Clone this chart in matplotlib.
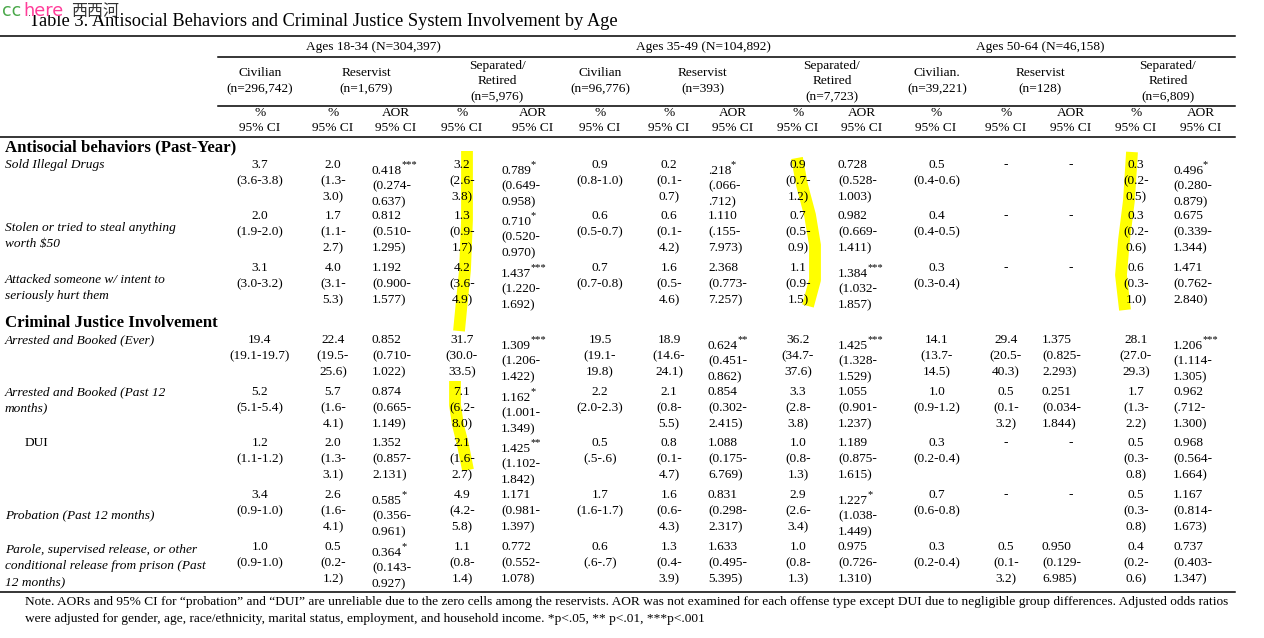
import matplotlib
matplotlib.use('Agg')
import matplotlib.pyplot as plt
from matplotlib.patches import Rectangle

# ---------------- data ----------------
title = "Table 3. Antisocial Behaviors and Criminal Justice System Involvement by Age"
age_groups = ["Ages 18-34 (N=304,397)", "Ages 35-49 (N=104,892)", "Ages 50-64 (N=46,158)"]
group_headers = [
    ["Civilian", "(n=296,742)"], ["Reservist", "(n=1,679)"], ["Separated/", "Retired", "(n=5,976)"],
    ["Civilian", "(n=96,776)"], ["Reservist", "(n=393)"], ["Separated/", "Retired", "(n=7,723)"],
    ["Civilian.", "(n=39,221)"], ["Reservist", "(n=128)"], ["Separated/", "Retired", "(n=6,809)"],
]
col_headers = ["%", "%", "AOR", "%", "AOR", "%", "%", "AOR", "%", "AOR", "%", "%", "AOR", "%", "AOR"]

sections = ["Antisocial behaviors (Past-Year)", "Criminal Justice Involvement"]
row_labels = [
    "Sold Illegal Drugs",
    "Stolen or tried to steal anything\nworth $50",
    "Attacked someone w/ intent to\nseriously hurt them",
    "Arrested and Booked (Ever)",
    "Arrested and Booked (Past 12\nmonths)",
    "DUI",
    "Probation (Past 12 months)",
    "Parole, supervised release, or other\nconditional release from prison (Past\n12 months)",
]

civ_1834 = ["3.7\n(3.6-3.8)", "2.0\n(1.9-2.0)", "3.1\n(3.0-3.2)", "19.4\n(19.1-19.7)",
            "5.2\n(5.1-5.4)", "1.2\n(1.1-1.2)", "3.4\n(0.9-1.0)", "1.0\n(0.9-1.0)"]
res_pct_1834 = ["2.0\n(1.3-\n3.0)", "1.7\n(1.1-\n2.7)", "4.0\n(3.1-\n5.3)", "22.4\n(19.5-\n25.6)",
                "5.7\n(1.6-\n4.1)", "2.0\n(1.3-\n3.1)", "2.6\n(1.6-\n4.1)", "0.5\n(0.2-\n1.2)"]
res_aor_1834 = ["0.418***\n(0.274-\n0.637)", "0.812\n(0.510-\n1.295)", "1.192\n(0.900-\n1.577)",
                "0.852\n(0.710-\n1.022)", "0.874\n(0.665-\n1.149)", "1.352\n(0.857-\n2.131)",
                "0.585*\n(0.356-\n0.961)", "0.364*\n(0.143-\n0.927)"]
sep_pct_1834 = ["3.2\n(2.6-\n3.8)", "1.3\n(0.9-\n1.7)", "4.2\n(3.6-\n4.9)", "31.7\n(30.0-\n33.5)",
                "7.1\n(6.2-\n8.0)", "2.1\n(1.6-\n2.7)", "4.9\n(4.2-\n5.8)", "1.1\n(0.8-\n1.4)"]
sep_aor_1834 = ["0.789*\n(0.649-\n0.958)", "0.710*\n(0.520-\n0.970)", "1.437***\n(1.220-\n1.692)",
                "1.309***\n(1.206-\n1.422)", "1.162*\n(1.001-\n1.349)", "1.425**\n(1.102-\n1.842)",
                "1.171\n(0.981-\n1.397)", "0.772\n(0.552-\n1.078)"]
civ_3549 = ["0.9\n(0.8-1.0)", "0.6\n(0.5-0.7)", "0.7\n(0.7-0.8)", "19.5\n(19.1-\n19.8)",
            "2.2\n(2.0-2.3)", "0.5\n(.5-.6)", "1.7\n(1.6-1.7)", "0.6\n(.6-.7)"]
res_pct_3549 = ["0.2\n(0.1-\n0.7)", "0.6\n(0.1-\n4.2)", "1.6\n(0.5-\n4.6)", "18.9\n(14.6-\n24.1)",
                "2.1\n(0.8-\n5.5)", "0.8\n(0.1-\n4.7)", "1.6\n(0.6-\n4.3)", "1.3\n(0.4-\n3.9)"]
res_aor_3549 = [".218*\n(.066-\n.712)", "1.110\n(.155-\n7.973)", "2.368\n(0.773-\n7.257)",
                "0.624**\n(0.451-\n0.862)", "0.854\n(0.302-\n2.415)", "1.088\n(0.175-\n6.769)",
                "0.831\n(0.298-\n2.317)", "1.633\n(0.495-\n5.395)"]
sep_pct_3549 = ["0.9\n(0.7-\n1.2)", "0.7\n(0.5-\n0.9)", "1.1\n(0.9-\n1.5)", "36.2\n(34.7-\n37.6)",
                "3.3\n(2.8-\n3.8)", "1.0\n(0.8-\n1.3)", "2.9\n(2.6-\n3.4)", "1.0\n(0.8-\n1.3)"]
sep_aor_3549 = ["0.728\n(0.528-\n1.003)", "0.982\n(0.669-\n1.411)", "1.384***\n(1.032-\n1.857)",
                "1.425***\n(1.328-\n1.529)", "1.055\n(0.901-\n1.237)", "1.189\n(0.875-\n1.615)",
                "1.227*\n(1.038-\n1.449)", "0.975\n(0.726-\n1.310)"]
civ_5064 = ["0.5\n(0.4-0.6)", "0.4\n(0.4-0.5)", "0.3\n(0.3-0.4)", "14.1\n(13.7-\n14.5)",
            "1.0\n(0.9-1.2)", "0.3\n(0.2-0.4)", "0.7\n(0.6-0.8)", "0.3\n(0.2-0.4)"]
res_pct_5064 = ["-", "-", "-", "29.4\n(20.5-\n40.3)", "0.5\n(0.1-\n3.2)", "-", "-", "0.5\n(0.1-\n3.2)"]
res_aor_5064 = ["-", "-", "-", "1.375\n(0.825-\n2.293)", "0.251\n(0.034-\n1.844)", "-", "-",
                "0.950\n(0.129-\n6.985)"]
sep_pct_5064 = ["0.3\n(0.2-\n0.5)", "0.3\n(0.2-\n0.6)", "0.6\n(0.3-\n1.0)", "28.1\n(27.0-\n29.3)",
                "1.7\n(1.3-\n2.2)", "0.5\n(0.3-\n0.8)", "0.5\n(0.3-\n0.8)", "0.4\n(0.2-\n0.6)"]
sep_aor_5064 = ["0.496*\n(0.280-\n0.879)", "0.675\n(0.339-\n1.344)", "1.471\n(0.762-\n2.840)",
                "1.206***\n(1.114-\n1.305)", "0.962\n(.712-\n1.300)", "0.968\n(0.564-\n1.664)",
                "1.167\n(0.814-\n1.673)", "0.737\n(0.403-\n1.347)"]

columns = [civ_1834, res_pct_1834, res_aor_1834, sep_pct_1834, sep_aor_1834,
           civ_3549, res_pct_3549, res_aor_3549, sep_pct_3549, sep_aor_3549,
           civ_5064, res_pct_5064, res_aor_5064, sep_pct_5064, sep_aor_5064]

note_lines = [
    "Note. AORs and 95% CI for \u201cprobation\u201d and \u201cDUI\u201d are unreliable due to the zero cells among the reservists. AOR was not examined for each offense type except DUI due to negligible group differences. Adjusted odds ratios",
    "were adjusted for gender, age, race/ethnicity, marital status, employment, and household income. *p<.05, ** p<.01, ***p<.001",
]

# ---------------- layout ----------------
W, H = 1264, 638
fig = plt.figure(figsize=(W / 100, H / 100), dpi=100)
ax = fig.add_axes([0, 0, 1, 1])
ax.set_xlim(0, W)
ax.set_ylim(H, 0)
ax.axis('off')

SERIF = 'Liberation Serif'
FS = 9.6
LH = 16  # line height in px
TXT = dict(family=SERIF, fontsize=FS, color='black', zorder=3)

col_head_x = [260, 333, 396, 462, 533, 600, 669, 733, 798, 862, 936, 1006, 1071, 1136, 1201]
col_data_x = [260, 333, 372, 462, 501, 600, 669, 708, 798, 838, 937, 1006, 1042, 1136, 1173]
col_is_aor = [h == "AOR" for h in col_headers]
group_x = [260, 366, 497, 600, 703, 832, 937, 1040, 1168]
age_x = [373, 703, 1040]
row_y = [165, 216, 268, 340, 392, 443, 495, 547]
label_y = [165, 228, 280, 340, 392, 443, 515, 550]
RIGHT = 1235

# rules
lw = 1.1
ax.plot([0, RIGHT], [35.5, 35.5], color='black', lw=lw)
ax.plot([218, RIGHT], [56.5, 56.5], color='black', lw=lw)
ax.plot([218, RIGHT], [105.5, 105.5], color='black', lw=lw)
ax.plot([0, RIGHT], [137, 137], color='black', lw=lw)
ax.plot([0, RIGHT], [592, 592], color='black', lw=lw)

# title
ax.text(29, 21, title, ha='left', va='center', family=SERIF, fontsize=13.2, zorder=3)

# watermark (covers the top of the title, as in the source)
ax.add_patch(Rectangle((0, 0), 121, 15, facecolor='white', edgecolor='none', zorder=4))
wm = dict(va='baseline', zorder=5)
ax.text(2, 16, "cc", color='#4aa84a', family='DejaVu Sans', fontsize=12.5, **wm)
ax.text(23, 16, "here", color='#ff3d9a', family='DejaVu Sans', fontsize=12.8, **wm)
ax.text(71, 16, "西西河", color='#333333', family=['Noto Sans CJK SC', 'DejaVu Sans'],
        fontsize=11.5, **wm)

# age headers
for x, s in zip(age_x, age_groups):
    ax.text(x, 47, s, ha='center', va='center', **TXT)

# group headers
for x, lines in zip(group_x, group_headers):
    y0 = 73 if len(lines) == 2 else 66
    step = 16 if len(lines) == 2 else 15.5
    for i, s in enumerate(lines):
        ax.text(x, y0 + i * step, s, ha='center', va='center', **TXT)

# column headers
for x, h in zip(col_head_x, col_headers):
    ax.text(x, 113, h, ha='center', va='center', **TXT)
    ax.text(x, 128, "95% CI", ha='center', va='center', **TXT)

# section headers
ax.text(5, 147, sections[0], ha='left', va='center', family=SERIF, fontsize=12.1,
        fontweight='bold', zorder=3)
ax.text(5, 323, sections[1], ha='left', va='center', family=SERIF, fontsize=12.1,
        fontweight='bold', zorder=3)

# row labels
for i, (lab, y0) in enumerate(zip(row_labels, label_y)):
    is_dui = lab == "DUI"
    for j, s in enumerate(lab.split("\n")):
        ax.text(25 if is_dui else 5, y0 + j * LH, s, ha='left', va='center',
                style='normal' if is_dui else 'italic', **TXT)

# highlighter strokes (drawn beneath text)
hl = dict(color='#ffff00', lw=8.5, solid_capstyle='butt', solid_joinstyle='round', zorder=1)
ax.plot([467, 467, 465, 462, 459], [151, 220, 270, 300, 331], **hl)
ax.plot([455, 455, 458, 463, 468], [381, 405, 425, 445, 470], **hl)
ax.plot([797, 802, 810, 815, 815, 808], [158, 185, 215, 245, 280, 306], **hl)
ax.plot([1132, 1129, 1124, 1121, 1125], [152, 200, 240, 275, 310], **hl)

# cells
for c, col in enumerate(columns):
    for r, cell in enumerate(col):
        lines = cell.split("\n")
        first = lines[0]
        stars = first[len(first.rstrip('*')):]
        first = first.rstrip('*')
        y0 = row_y[r] + (6 if stars else 0)
        if cell == "-":
            ax.text(col_head_x[c] if col_is_aor[c] else col_data_x[c], row_y[r], "-",
                    ha='center', va='center', **TXT)
            continue
        ha = 'left' if col_is_aor[c] else 'center'
        x = col_data_x[c]
        for j, s in enumerate([first] + lines[1:]):
            t = ax.text(x, y0 + j * (LH - 0.5 if stars else LH), s, ha=ha, va='center', **TXT)
            if j == 0 and stars:
                ax.annotate(stars, xy=(1, 1), xycoords=t, xytext=(-0.3, 3.4),
                            textcoords='offset points', ha='left', va='top',
                            family=SERIF, fontsize=7.5, zorder=3)

# note
for j, s in enumerate(note_lines):
    ax.text(25, 602 + j * 17, s, ha='left', va='center', **TXT)

fig.savefig('out.png', dpi=100)
